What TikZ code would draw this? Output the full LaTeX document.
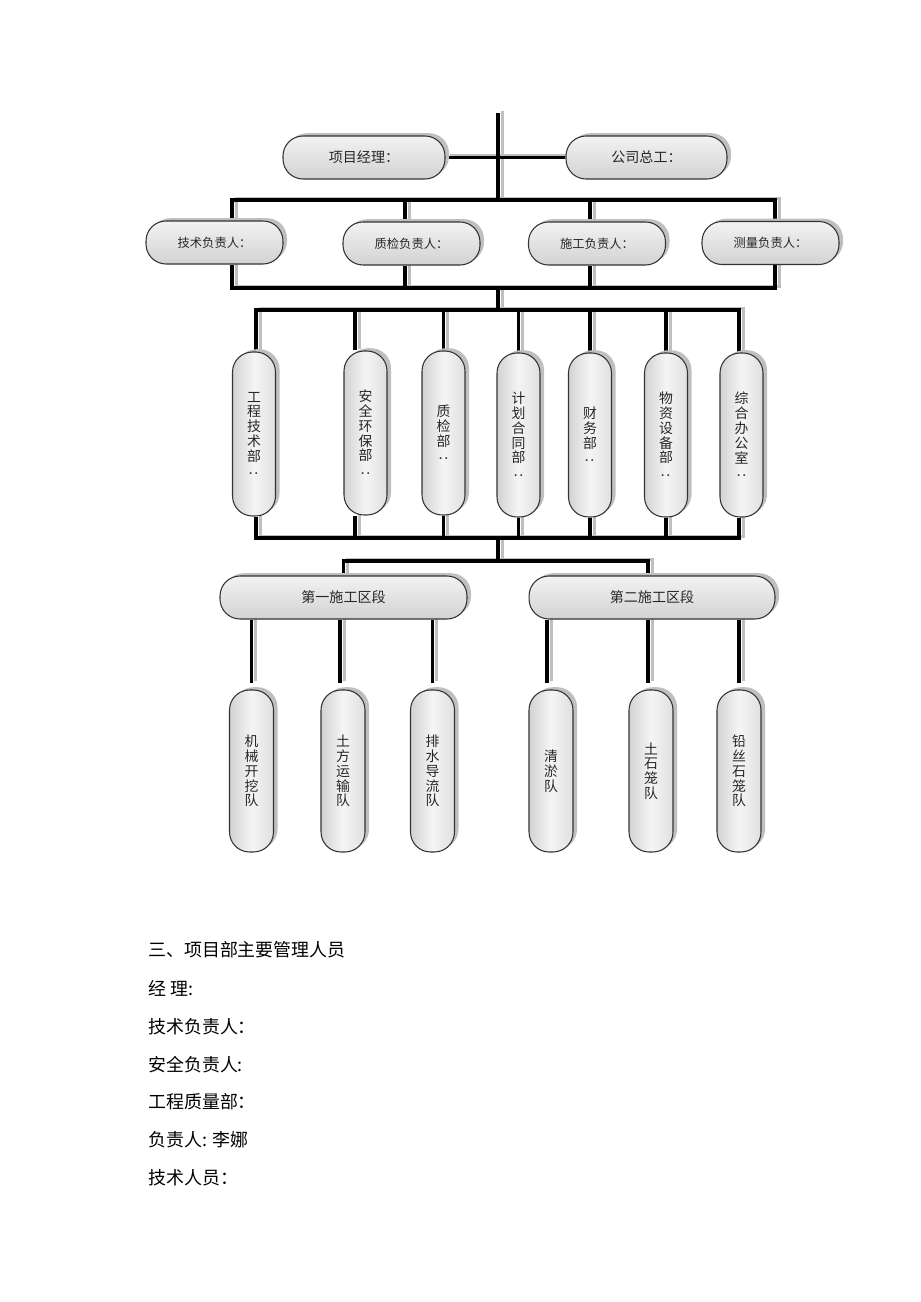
\documentclass[tikz,border=0pt]{standalone}
\usepackage{fontspec}
\setmainfont{Noto Sans CJK SC}
\usetikzlibrary{shadows,backgrounds}

\newcommand{\vcolon}{\rotatebox{90}{:}}
\tikzset{
  box/.style={draw=black!80, line width=0.6pt, rounded corners=0.4cm, inner sep=1pt, text=black!85,
    drop shadow={shadow xshift=2.3pt, shadow yshift=1.6pt, fill=gray!50, opacity=1}},
  hbox/.style={box, top color=gray!10, bottom color=gray!35, minimum height=0.86cm, font=\fontsize{8}{9}\selectfont},
  lead/.style={hbox, minimum width=2.74cm, font=\fontsize{7}{8}\selectfont},
  dept/.style={box, left color=gray!35, right color=gray!25, middle color=gray!8,
    minimum width=0.86cm, minimum height=3.28cm, align=center, font=\fontsize{7.9}{8.4}\selectfont},
  team/.style={dept, minimum width=0.88cm, minimum height=3.24cm},
  wire/.style={line width=2.2pt, black},
  wireshade/.style={line width=1.7pt, gray!50, transform canvas={xshift=2.4pt, yshift=1.1pt}},
  note/.style={anchor=west, inner sep=0pt, font=\fontsize{10.2}{12}\selectfont}
}

% all connectors, drawn twice (shade, then black)
\newcommand{\orgwires}{%
  \draw (t0) -- (j1);
  \draw (pm.east) -- (ce.west);
  \draw ([xshift=.35cm]tech.north) |- (j1) -| ([xshift=.09cm]surv.north);
  \draw ([xshift=-.13cm]qc.north) |- (j1);
  \draw ([xshift=-.14cm]cons.north) |- (j1);
  \draw ([xshift=.35cm]tech.south) |- (j2) -| ([xshift=.09cm]surv.south);
  \draw ([xshift=-.13cm]qc.south) |- (j2);
  \draw ([xshift=-.14cm]cons.south) |- (j2);
  \draw (j2) -- (j3);
  \draw ([xshift=.04cm]d1.north) |- (j3) -| ([xshift=-.05cm]d7.north);
  \draw ([xshift=-.21cm]d2.north) |- (j3);
  \draw (d3.north) |- (j3);
  \draw (d4.north) |- (j3);
  \draw (d5.north) |- (j3);
  \draw (d6.north) |- (j3);
  \draw ([xshift=.04cm]d1.south) |- (j4) -| ([xshift=-.05cm]d7.south);
  \draw ([xshift=-.21cm]d2.south) |- (j4);
  \draw (d3.south) |- (j4);
  \draw (d4.south) |- (j4);
  \draw (d5.south) |- (j4);
  \draw (d6.south) |- (j4);
  \draw (j4) -- (j5);
  \draw (sec1.north) |- (j5) -| ([xshift=-.08cm]sec2.north);
  \draw (sec1.south -| t1) -- ([yshift=.14cm]t1.north);
  \draw ([xshift=-.06cm]sec1.south -| t2) -- ([xshift=-.06cm, yshift=.14cm]t2.north);
  \draw (sec1.south -| t3) -- ([yshift=.14cm]t3.north);
  \draw ([xshift=-.08cm]sec2.south -| t4) -- ([xshift=-.08cm, yshift=.14cm]t4.north);
  \draw ([xshift=-.06cm]sec2.south -| t5) -- ([xshift=-.06cm, yshift=.14cm]t5.north);
  \draw (sec2.south -| t6) -- ([yshift=.14cm]t6.north);
}

\begin{document}
\begin{tikzpicture}[x=0.02cm, y=-0.02cm]
  \useasboundingbox (0,0) rectangle (920,1302);

  \node[hbox, minimum width=3.24cm] (pm) at (364,157.5) {项目经理：};
  \node[hbox, minimum width=3.22cm] (ce) at (646.5,157.5) {公司总工：};

  \node[lead] (tech) at (214.5,242.5) {技术负责人：};
  \node[lead] (qc) at (411.5,243.5) {质检负责人：};
  \node[lead] (cons) at (597,243.5) {施工负责人：};
  \node[lead] (surv) at (770.5,243) {测量负责人：};

  \node[dept] (d1) at (254,434) {工\\程\\技\\术\\部\\\vcolon};
  \node[dept] (d2) at (365.5,433) {安\\全\\环\\保\\部\\\vcolon};
  \node[dept] (d3) at (443.5,433) {质\\检\\部\\\vcolon};
  \node[dept] (d4) at (518.5,435) {计\\划\\合\\同\\部\\\vcolon};
  \node[dept] (d5) at (590,435) {财\\务\\部\\\vcolon};
  \node[dept] (d6) at (666,435) {物\\资\\设\\备\\部\\\vcolon};
  \node[dept] (d7) at (741.5,435) {综\\合\\办\\公\\室\\\vcolon};

  \node[hbox, minimum width=4.94cm] (sec1) at (343.5,597.5) {第一施工区段};
  \node[hbox, minimum width=4.92cm] (sec2) at (652,597.5) {第二施工区段};

  \node[team] (t1) at (251.5,771) {机\\械\\开\\挖\\队};
  \node[team] (t2) at (343,771) {土\\方\\运\\输\\队};
  \node[team] (t3) at (432.5,771) {排\\水\\导\\流\\队};
  \node[team] (t4) at (551,771) {清\\淤\\队};
  \node[team] (t5) at (651,771) {土\\石\\笼\\队};
  \node[team] (t6) at (739,771) {铅\\丝\\石\\笼\\队};

  \coordinate (t0) at (498,113);
  \coordinate (j1) at (498,200);
  \coordinate (j2) at (498,288);
  \coordinate (j3) at (498,310);
  \coordinate (j4) at (498,538);
  \coordinate (j5) at (498,561);

  \begin{pgfonlayer}{background}
    \begin{scope}[wireshade]
      \orgwires
    \end{scope}
    \begin{scope}[wire]
      \orgwires
    \end{scope}
  \end{pgfonlayer}

  \node[note] (n1) at (148,950) {三、项目部主要管理人员};
  \node[note] (n2) at (148,988) {经 理:};
  \node[note] (n3) at (148,1027) {技术负责人：};
  \node[note] (n4) at (148,1065) {安全负责人:};
  \node[note] (n5) at (148,1102) {工程质量部：};
  \node[note] (n6) at (148,1140) {负责人: 李娜};
  \node[note] (n7) at (148,1178) {技术人员：};
\end{tikzpicture}
\end{document}
